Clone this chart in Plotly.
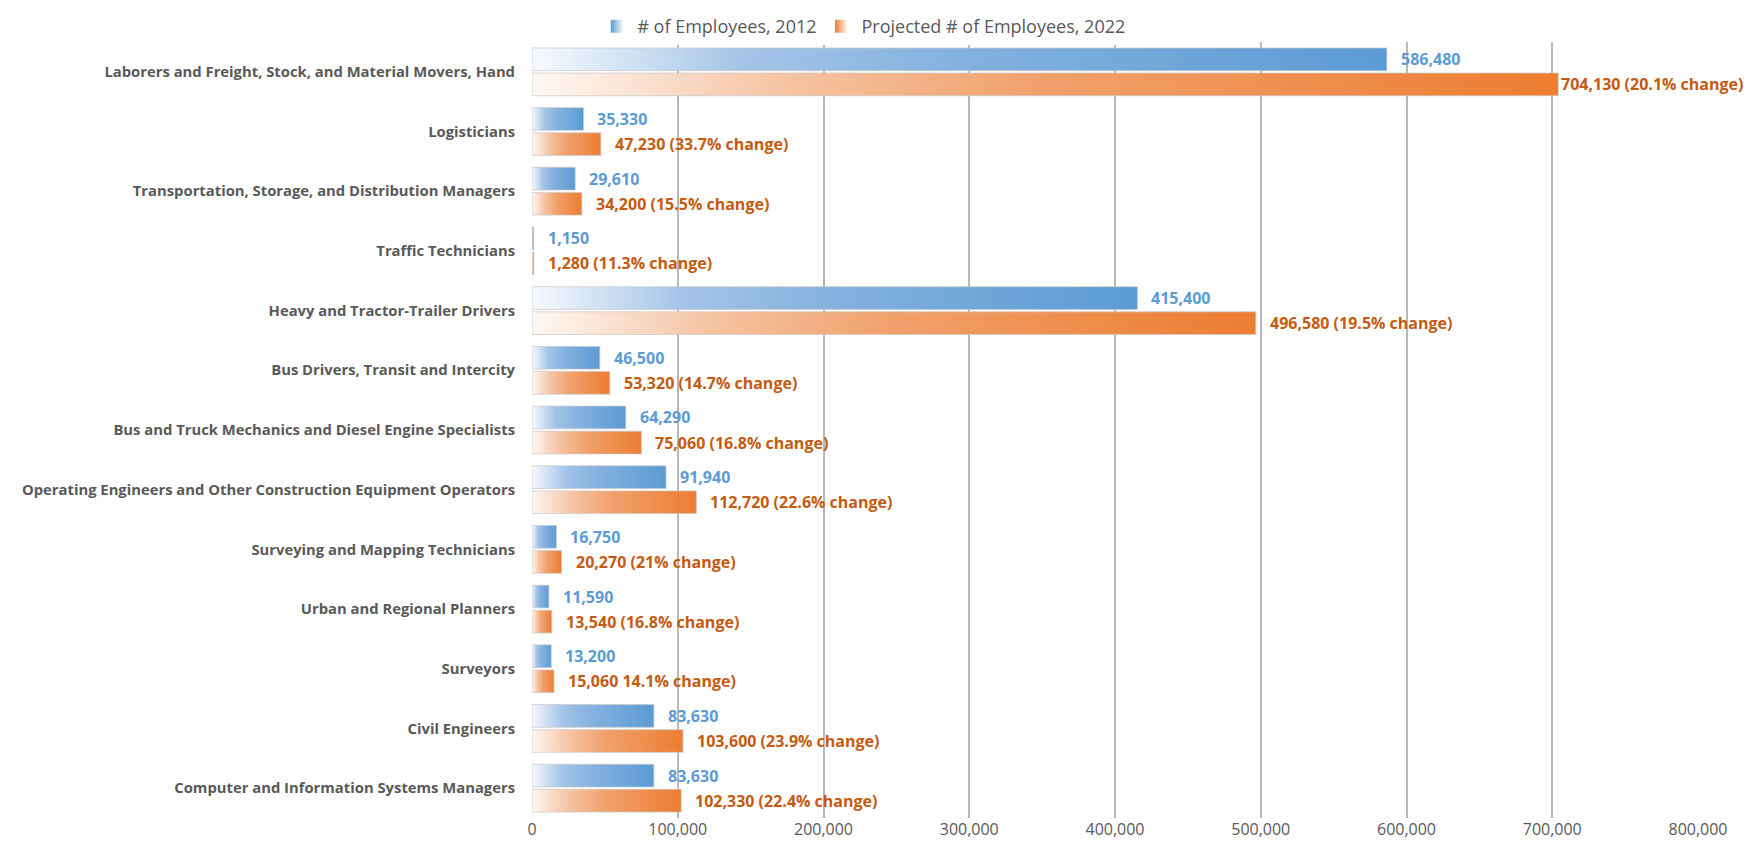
import plotly.graph_objects as go

categories = [
    "Laborers and Freight, Stock, and Material Movers, Hand",
    "Logisticians",
    "Transportation, Storage, and Distribution Managers",
    "Traffic Technicians",
    "Heavy and Tractor-Trailer Drivers",
    "Bus Drivers, Transit and Intercity",
    "Bus and Truck Mechanics and Diesel Engine Specialists",
    "Operating Engineers and Other Construction Equipment Operators",
    "Surveying and Mapping Technicians",
    "Urban and Regional Planners",
    "Surveyors",
    "Civil Engineers",
    "Computer and Information Systems Managers",
]
emp_2012 = [586480, 35330, 29610, 1150, 415400, 46500, 64290, 91940, 16750, 11590, 13200, 83630, 83630]
emp_2022 = [704130, 47230, 34200, 1280, 496580, 53320, 75060, 112720, 20270, 13540, 15060, 103600, 102330]
labels_2012 = ["586,480", "35,330", "29,610", "1,150", "415,400", "46,500", "64,290",
               "91,940", "16,750", "11,590", "13,200", "83,630", "83,630"]
labels_2022 = ["704,130 (20.1% change)", "47,230 (33.7% change)", "34,200 (15.5% change)",
               "1,280 (11.3% change)", "496,580 (19.5% change)", "53,320 (14.7% change)",
               "75,060 (16.8% change)", "112,720 (22.6% change)", "20,270 (21% change)",
               "13,540 (16.8% change)", "15,060 14.1% change)", "103,600 (23.9% change)",
               "102,330 (22.4% change)"]
series_names = ["# of Employees, 2012", "Projected # of Employees, 2022"]
x_ticks = [0, 100000, 200000, 300000, 400000, 500000, 600000, 700000, 800000]
x_tick_text = ["0", "100,000", "200,000", "300,000", "400,000", "500,000", "600,000", "700,000", "800,000"]

FONT = "Open Sans"
blue_scale = [[0, "#f7fafd"], [0.25, "#a3c4e7"], [0.5, "#84b1de"], [1, "#5b9bd5"]]
orange_scale = [[0, "#fef8f4"], [0.25, "#f5c3a1"], [0.5, "#f0a06b"], [1, "#ed7d31"]]
solid_colors = ["#5b9bd5", "#ed7d31"]
label_colors = ["#5b9bd5", "#c55a11"]
bar_span = [(-0.40, -0.02), (0.02, 0.40)]
XMAX = 800000

fig = go.Figure()

# legend-only entries (square gradient swatches)
for s in range(2):
    fig.add_trace(go.Scatter(
        x=[None], y=[None], mode="markers", name=series_names[s],
        legendgroup=series_names[s],
        marker=dict(symbol="square", size=13, color=solid_colors[s],
                    gradient=dict(type="horizontal", color="#ffffff"),
                    line=dict(width=0)),
        hoverinfo="skip",
    ))

annotations = []
for s, (vals, labs, scale) in enumerate([(emp_2012, labels_2012, blue_scale),
                                         (emp_2022, labels_2022, orange_scale)]):
    y_lo, y_hi = bar_span[s]
    for i, v in enumerate(vals):
        fig.add_trace(go.Scatter(
            x=[0, v, v, 0, 0],
            y=[i + y_lo, i + y_lo, i + y_hi, i + y_hi, i + y_lo],
            mode="lines",
            fill="toself",
            fillgradient=dict(type="horizontal", colorscale=scale, start=0, stop=max(v, 1)),
            line=dict(color="rgba(200,200,200,0.7)", width=1),
            name=series_names[s],
            legendgroup=series_names[s],
            showlegend=False,
            hoverinfo="skip",
        ))
        shift = 1 if v > 0.85 * XMAX else 12
        annotations.append(dict(
            x=v, y=i + (y_lo + y_hi) / 2, xref="x", yref="y",
            text="<b>" + labs[i] + "</b>", showarrow=False,
            xanchor="left", yanchor="middle", xshift=shift,
            font=dict(family=FONT, size=16, color=label_colors[s]),
        ))

fig.update_layout(
    width=1737, height=846,
    margin=dict(l=524, r=47, t=34, b=36, autoexpand=False),
    paper_bgcolor="white", plot_bgcolor="white",
    showlegend=True,
    legend=dict(orientation="h", x=0.056, xanchor="left", yref="container", y=1.0, yanchor="top",
                font=dict(family=FONT, size=18, color="#595959"),
                itemwidth=30, traceorder="normal"),
    annotations=annotations,
    font=dict(family=FONT, color="#595959"),
)
fig.update_xaxes(range=[0, XMAX], tickvals=x_ticks, ticktext=x_tick_text, automargin=False,
                 showgrid=True, gridcolor="#b8b8b8", gridwidth=1.5, zeroline=False,
                 tickfont=dict(family=FONT, size=16, color="#595959"), ticks="")
fig.update_yaxes(range=[12.5, -0.5], tickvals=list(range(len(categories))), automargin=False,
                 ticktext=["<b>" + c + "</b>" for c in categories],
                 showgrid=False, zeroline=False, ticks="", ticklabelstandoff=16,
                 tickfont=dict(family=FONT, size=14.8, color="#595959"))

fig.write_html("out.html")
